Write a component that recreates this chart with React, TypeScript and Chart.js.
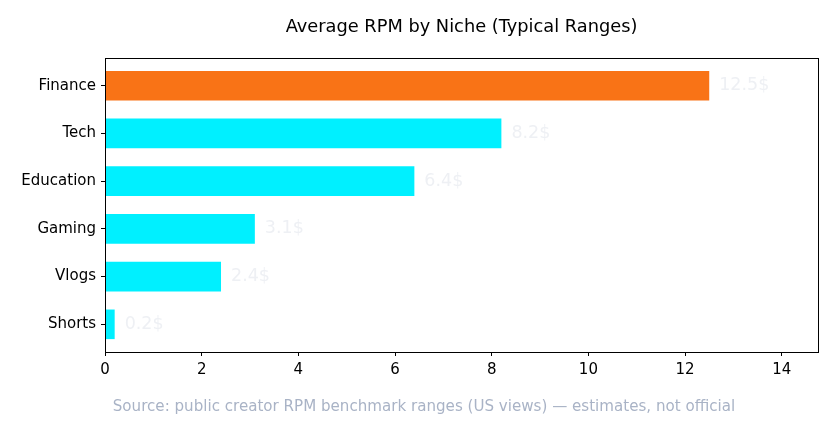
import { useEffect, useRef } from "react";
import { Chart, registerables } from "chart.js";

Chart.register(...registerables);

// Data
const niches = ["Finance", "Tech", "Education", "Gaming", "Vlogs", "Shorts"];
const rpmValues = [12.5, 8.2, 6.4, 3.1, 2.4, 0.2];
const barColors = ["#F97316", "#00F0FF", "#00F0FF", "#00F0FF", "#00F0FF", "#00F0FF"];
const xTicks = [0, 2, 4, 6, 8, 10, 12, 14];

const TITLE = "Average RPM by Niche (Typical Ranges)";
const SOURCE = "Source: public creator RPM benchmark ranges (US views) — estimates, not official";
const FONT = "'DejaVu Sans', sans-serif";

export default function App() {
  const canvasRef = useRef<HTMLCanvasElement>(null);

  useEffect(() => {
    document.body.style.margin = "0";
    const canvas = canvasRef.current;
    if (!canvas) return;

    // spines on all four sides, like matplotlib
    const framePlugin = {
      id: "frame",
      afterDatasetsDraw(chart: any) {
        const { ctx, chartArea } = chart;
        ctx.save();
        ctx.strokeStyle = "#000";
        ctx.lineWidth = 1;
        ctx.strokeRect(
          Math.round(chartArea.left) + 0.5,
          Math.round(chartArea.top) + 0.5,
          Math.round(chartArea.right - chartArea.left),
          Math.round(chartArea.bottom - chartArea.top)
        );
        ctx.restore();
      },
    };

    // value labels next to bars + title + source note
    const textPlugin = {
      id: "texts",
      afterDraw(chart: any) {
        const { ctx, chartArea } = chart;
        ctx.save();
        const meta = chart.getDatasetMeta(0);
        ctx.font = `17.5px ${FONT}`;
        ctx.fillStyle = "#EEF0F4";
        ctx.textAlign = "left";
        ctx.textBaseline = "middle";
        meta.data.forEach((bar: any, i: number) => {
          ctx.fillText(`${rpmValues[i]}$`, bar.x + 10, bar.y);
        });

        ctx.textAlign = "center";
        ctx.fillStyle = "#000";
        ctx.font = `17.8px ${FONT}`;
        ctx.fillText(TITLE, (chartArea.left + chartArea.right) / 2, 27);

        ctx.fillStyle = "#A9B3C6";
        ctx.font = `15.1px ${FONT}`;
        ctx.fillText(SOURCE, 424, 407);
        ctx.restore();
      },
    };

    const chart = new Chart(canvas, {
      type: "bar",
      data: {
        datasets: [
          {
            data: rpmValues.map((v, i) => ({ x: v, y: i })),
            backgroundColor: barColors,
            borderWidth: 0,
            categoryPercentage: 1,
            barPercentage: 0.62,
          },
        ],
      },
      options: {
        indexAxis: "y",
        animation: false,
        responsive: true,
        maintainAspectRatio: false,
        layout: { padding: { left: 0, top: 58, right: 20, bottom: 0 } },
        plugins: {
          legend: { display: false },
          tooltip: { enabled: false },
        },
        scales: {
          x: {
            type: "linear",
            min: 0,
            max: 14.75,
            afterBuildTicks: (scale: any) => {
              scale.ticks = xTicks.map((v) => ({ value: v }));
            },
            afterFit: (scale: any) => {
              scale.height = 83;
            },
            ticks: {
              color: "#000",
              font: { family: FONT, size: 15 },
              padding: 5,
            },
            grid: {
              drawOnChartArea: false,
              drawTicks: true,
              tickLength: 4,
              tickColor: "#000",
            },
            border: { display: true, color: "#000", width: 1 },
          },
          y: {
            type: "linear",
            min: -0.58,
            max: 5.58,
            reverse: true,
            offset: false,
            afterBuildTicks: (scale: any) => {
              scale.ticks = niches.map((_, i) => ({ value: i }));
            },
            afterFit: (scale: any) => {
              scale.width = 105;
            },
            ticks: {
              color: "#000",
              font: { family: FONT, size: 15 },
              padding: 5,
              callback: (value: any) => niches[value as number] ?? "",
            },
            grid: {
              offset: false,
              drawOnChartArea: false,
              drawTicks: true,
              tickLength: 4,
              tickColor: "#000",
            },
            border: { display: true, color: "#000", width: 1 },
          },
        },
      },
      plugins: [framePlugin, textPlugin],
    });

    return () => {
      chart.destroy();
    };
  }, []);

  return (
    <div style={{ position: "relative", width: 838, height: 435, background: "#fff" }}>
      <canvas ref={canvasRef}></canvas>
    </div>
  );
}
